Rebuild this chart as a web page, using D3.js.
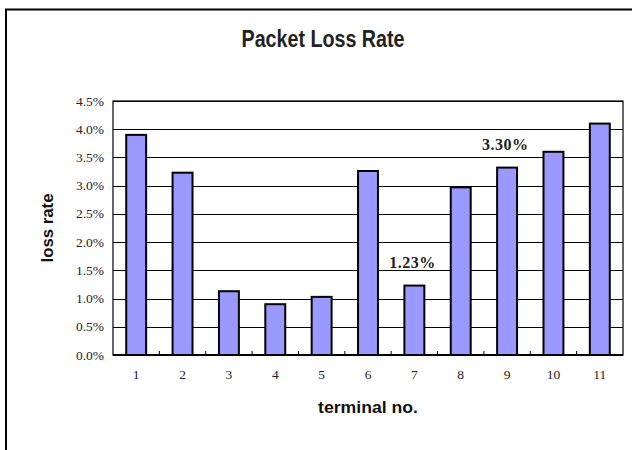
<!DOCTYPE html>
<html lang="en">
  <head>
    <meta charset="UTF-8" />
    <title>Packet Loss Rate</title>
    <script src="https://d3js.org/d3.v7.min.js"></script>
    <style>
      body {
        margin: 0;
        background: #fff;
      }
      .tick-label {
        font-family: "Liberation Serif", "Times New Roman", serif;
        font-size: 13.5px;
        fill: #222;
      }
      .title {
        font-family: "Liberation Sans", Arial, sans-serif;
        font-weight: bold;
        font-size: 23px;
        fill: #222;
      }
      .axis-title {
        font-family: "Liberation Sans", Arial, sans-serif;
        font-weight: bold;
        font-size: 16px;
        fill: #111;
      }
      .bar-note {
        font-family: "Liberation Serif", "Times New Roman", serif;
        font-weight: bold;
        font-size: 16px;
        fill: #222;
      }
    </style>
  </head>
  <body>
    <svg id="chart" width="632" height="450"></svg>
    <script>
      // terminals and their loss rate (%)
      let terminals = ["1", "2", "3", "4", "5", "6", "7", "8", "9", "10", "11"];
      let lossRates = [3.9, 3.23, 1.13, 0.9, 1.03, 3.26, 1.23, 2.97, 3.32, 3.6, 4.1];
      let yTicks = [0, 0.5, 1, 1.5, 2, 2.5, 3, 3.5, 4, 4.5];
      // the two values printed on the chart
      let noteTerminals = ["7", "9"];
      let noteLabels = ["1.23%", "3.30%"];

      let svg = d3.select("#chart");

      // outer chart frame
      svg
        .append("rect")
        .attr("x", 6)
        .attr("y", 9.5)
        .attr("width", 660)
        .attr("height", 470)
        .attr("fill", "none")
        .attr("stroke", "#000")
        .attr("stroke-width", 2);

      let plot = { left: 113, right: 623, top: 101, bottom: 355 };

      let x = d3
        .scaleBand()
        .domain(terminals)
        .range([plot.left, plot.right])
        .paddingInner(0.57)
        .paddingOuter(0.285);

      let xOuter = d3
        .scaleBand()
        .domain(terminals)
        .range([plot.left, plot.right]);

      let y = d3.scaleLinear().domain([0, 4.5]).range([plot.bottom, plot.top]);

      // gridlines
      svg
        .append("g")
        .selectAll("line")
        .data(yTicks.slice(1))
        .join("line")
        .attr("x1", plot.left)
        .attr("x2", plot.right)
        .attr("y1", (d) => Math.round(y(d)) + 0.5)
        .attr("y2", (d) => Math.round(y(d)) + 0.5)
        .attr("stroke", "#000")
        .attr("stroke-width", 1);

      // plot border
      svg
        .append("rect")
        .attr("x", plot.left)
        .attr("y", plot.top)
        .attr("width", plot.right - plot.left)
        .attr("height", plot.bottom - plot.top)
        .attr("fill", "none")
        .attr("stroke", "#000")
        .attr("stroke-width", 1.2);

      // bars
      svg
        .append("g")
        .selectAll("rect")
        .data(lossRates)
        .join("rect")
        .attr("x", (d, i) => x(terminals[i]))
        .attr("y", (d) => y(d))
        .attr("width", x.bandwidth())
        .attr("height", (d) => y(0) - y(d))
        .attr("fill", "#9999ff")
        .attr("stroke", "#000")
        .attr("stroke-width", 2);

      // x axis line and inside ticks between categories
      svg
        .append("line")
        .attr("x1", plot.left)
        .attr("x2", plot.right)
        .attr("y1", plot.bottom)
        .attr("y2", plot.bottom)
        .attr("stroke", "#000")
        .attr("stroke-width", 2);

      svg
        .append("g")
        .selectAll("line")
        .data(terminals.slice(1))
        .join("line")
        .attr("x1", (d) => xOuter(d))
        .attr("x2", (d) => xOuter(d))
        .attr("y1", plot.bottom)
        .attr("y2", plot.bottom - 4)
        .attr("stroke", "#000")
        .attr("stroke-width", 1);

      // x tick labels
      svg
        .append("g")
        .selectAll("text")
        .data(terminals)
        .join("text")
        .attr("class", "tick-label")
        .attr("x", (d) => x(d) + x.bandwidth() / 2)
        .attr("y", 379)
        .attr("text-anchor", "middle")
        .text((d) => d);

      // y tick labels
      svg
        .append("g")
        .selectAll("text")
        .data(yTicks)
        .join("text")
        .attr("class", "tick-label")
        .attr("x", 104)
        .attr("y", (d) => y(d) + 4.5)
        .attr("text-anchor", "end")
        .text((d) => d.toFixed(1) + "%");

      // value notes above bars 7 and 9
      svg
        .append("g")
        .selectAll("text")
        .data(noteTerminals)
        .join("text")
        .attr("class", "bar-note")
        .attr("x", (d) => x(d) + x.bandwidth() / 2 - 2)
        .attr("y", (d) => y(lossRates[terminals.indexOf(d)]) - 18)
        .attr("text-anchor", "middle")
        .attr("textLength", 46)
        .attr("lengthAdjust", "spacing")
        .text((d, i) => noteLabels[i]);

      // titles
      svg
        .append("text")
        .attr("class", "title")
        .attr("x", 323)
        .attr("y", 46.5)
        .attr("text-anchor", "middle")
        .attr("textLength", 163)
        .attr("lengthAdjust", "spacingAndGlyphs")
        .text("Packet Loss Rate");

      svg
        .append("text")
        .attr("class", "axis-title")
        .attr("x", (plot.left + plot.right) / 2)
        .attr("y", 413)
        .attr("text-anchor", "middle")
        .attr("textLength", 100)
        .attr("lengthAdjust", "spacingAndGlyphs")
        .text("terminal no.");

      svg
        .append("text")
        .attr("class", "axis-title")
        .attr("transform", `translate(53,${(plot.top + plot.bottom) / 2}) rotate(-90)`)
        .attr("text-anchor", "middle")
        .attr("textLength", 69)
        .attr("lengthAdjust", "spacingAndGlyphs")
        .text("loss rate");
    </script>
  </body>
</html>
